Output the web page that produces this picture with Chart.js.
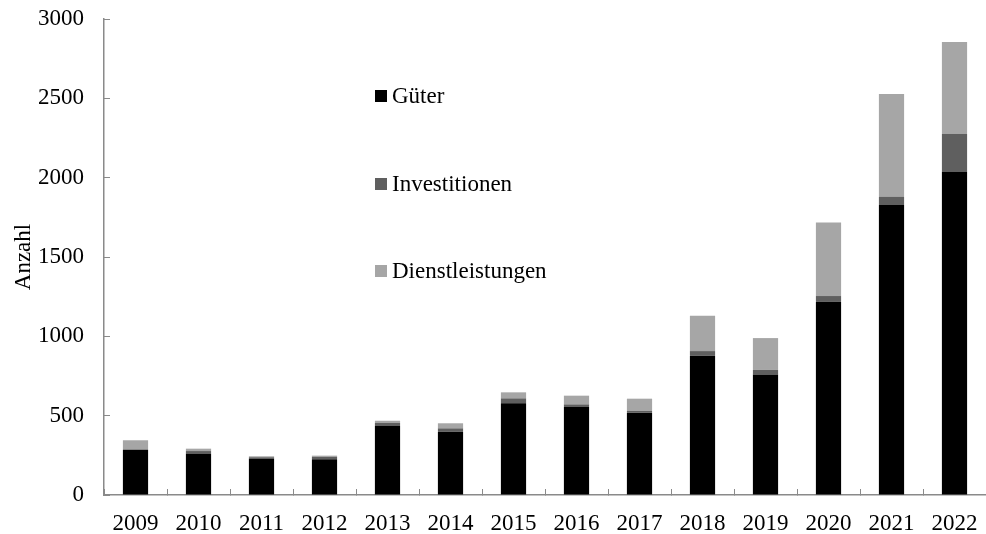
<!DOCTYPE html>
<html>
<head>
<meta charset="utf-8">
<script src="https://cdn.jsdelivr.net/npm/chart.js@4.4.1/dist/chart.umd.min.js"></script>
<style>
  body { margin: 0; background: #fff; }
  #wrap { position: relative; width: 986px; height: 534px; }
  #legend { position: absolute; left: 375px; top: 0; font-family: "Liberation Serif", serif; font-size: 23px; color: #000; }
  .item { position: absolute; white-space: nowrap; display: flex; align-items: center; }
  .box { width: 12px; height: 12px; margin-right: 5px; }
</style>
</head>
<body>
<div id="wrap">
  <canvas id="myChart" width="986" height="534"></canvas>
  <div id="legend"></div>
</div>
<script>
const years = ["2009", "2010", "2011", "2012", "2013", "2014", "2015", "2016", "2017", "2018", "2019", "2020", "2021", "2022"];
const gueter = [283, 258, 227, 225, 435, 399, 578, 556, 519, 878, 760, 1218, 1829, 2035];
const investitionen = [5, 19, 11, 15, 20, 21, 31, 15, 12, 29, 28, 36, 51, 242];
const dienstleistungen = [57, 15, 6, 8, 13, 32, 38, 55, 76, 223, 201, 464, 647, 578];
const yTicks = [0, 500, 1000, 1500, 2000, 2500, 3000];

const ctx = document.getElementById("myChart");
const tickFont = { family: "'Liberation Serif', serif", size: 23 };
const titleFont = { family: "'Liberation Serif', serif", size: 23 };

const chart = new Chart(ctx, {
  type: "bar",
  data: {
    labels: years,
    datasets: [
      { label: "Güter", data: gueter, backgroundColor: "#000000" },
      { label: "Investitionen", data: investitionen, backgroundColor: "#5f5f5f" },
      { label: "Dienstleistungen", data: dienstleistungen, backgroundColor: "#a6a6a6" },
    ],
  },
  options: {
    responsive: false,
    animation: false,
    layout: { padding: { top: 19, right: 0, left: 0, bottom: 0 } },
    datasets: { bar: { barPercentage: 0.4, categoryPercentage: 1 } },
    scales: {
      x: {
        stacked: true,
        grid: { drawOnChartArea: false, tickLength: -6, color: "#8a8a8a" },
        border: { color: "#8a8a8a", width: 1.5 },
        ticks: { color: "#000", font: tickFont, padding: 21, maxRotation: 0 },
        afterFit: (s) => { s.height = 39; s.paddingRight = 0; s.paddingLeft = 0; },
      },
      y: {
        stacked: true,
        min: 0,
        max: 3000,
        afterBuildTicks: (s) => { s.ticks = yTicks.map((v) => ({ value: v })); },
        grid: { drawOnChartArea: false, tickLength: -6, color: "#8a8a8a" },
        border: { color: "#8a8a8a", width: 1.5 },
        ticks: { color: "#000", font: tickFont, padding: 26, callback: (v) => String(v) },
        title: { display: true, text: "Anzahl", color: "#000", font: titleFont, padding: { top: 10, bottom: 0 } },
        afterFit: (s) => { s.width = 104; s.paddingTop = 0; s.paddingBottom = 0; },
      },
    },
    plugins: {
      legend: { display: false },
      tooltip: { enabled: false },
    },
  },
});

// legend placed inside the plot like the original
const legendTops = [97, 185, 272];
const legend = document.getElementById("legend");
chart.data.datasets.forEach((ds, i) => {
  const item = document.createElement("div");
  item.className = "item";
  item.style.top = (legendTops[i] - 14) + "px";
  item.innerHTML = '<span class="box" style="background:' + ds.backgroundColor + '"></span>' + ds.label;
  legend.appendChild(item);
});
</script>
</body>
</html>
